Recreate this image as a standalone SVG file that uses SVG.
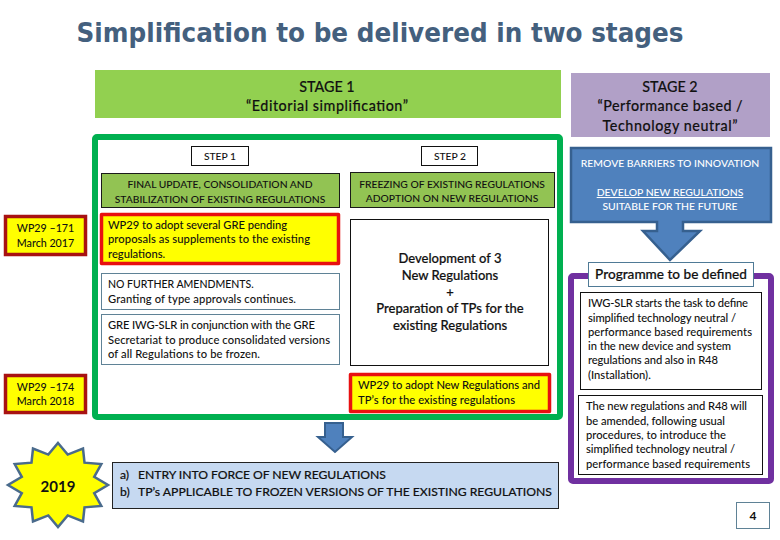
<svg xmlns="http://www.w3.org/2000/svg" width="780" height="540" viewBox="0 0 780 540">
<style>
text{font-family:"Lato","Open Sans","Liberation Sans",sans-serif;fill:#111;font-size:11.200px;font-weight:500}
.c{text-anchor:middle}
.title{font-family:"DejaVu Sans",sans-serif;font-weight:700;font-size:26.500px;fill:#44607e}
.st{font-size:14.300px;stroke:#111;stroke-width:.15}
.cap{font-size:10.300px}
.dev{font-size:13px;stroke:#111;stroke-width:.2}
.ent{font-size:12.200px;stroke:#111;stroke-width:.15}
.wh{fill:#fff;font-size:10.400px}
.g{fill:#92c353;stroke:#1a1a1a;stroke-width:1}
.w{fill:#fff;stroke:#111;stroke-width:1}
.ws{fill:#fff;stroke:#5f8296;stroke-width:1}
.yr{fill:#ffff00;stroke:#e81010;stroke-width:3.500;stroke-linejoin:round}
.yd{fill:#ffff00;stroke:#a81212;stroke-width:3.500}
.bl{fill:#4f81bd;stroke:#36608f;stroke-width:2.500}
</style>
<rect width="780" height="540" fill="#fff"/>
<text class="title c" x="380" y="42" textLength="607" lengthAdjust="spacingAndGlyphs">Simplification to be delivered in two stages</text>

<g id="stage1"><rect x="95" y="70" width="466" height="48" fill="#92d050"/>
<text class="c st" x="327" y="92">STAGE 1</text><text class="c st" x="327" y="111" textLength="162">“Editorial simplification”</text></g>
<g id="stage2"><rect x="571" y="73" width="199" height="64" fill="#b1a0c7"/>
<text class="c st" x="670" y="92">STAGE 2</text><text class="c st" x="670" y="111" textLength="145">“Performance based /</text><text class="c st" x="670" y="131" textLength="135">Technology neutral”</text></g>

<g id="stage1-frame"><rect x="95" y="137" width="465" height="280" rx="2" fill="#fff" stroke="#00b050" stroke-width="6"/></g>

<g id="step1"><rect class="w" x="191.500" y="146.500" width="57" height="19"/><text class="c cap" x="220" y="160">STEP 1</text></g>
<g id="step2"><rect class="w" x="421.500" y="146.500" width="56" height="19"/><text class="c cap" x="450" y="160">STEP 2</text></g>
<g id="final-update"><rect class="g" x="101.500" y="173.500" width="238" height="34"/>
<text class="c cap" x="220" y="188">FINAL UPDATE, CONSOLIDATION AND</text><text class="c cap" x="220" y="203">STABILIZATION OF EXISTING REGULATIONS</text></g>
<g id="freezing"><rect class="g" x="350.500" y="172.500" width="204" height="35"/>
<text class="c cap" x="452" y="188">FREEZING OF EXISTING REGULATIONS</text><text class="c cap" x="452" y="202">ADOPTION ON NEW REGULATIONS</text></g>
<g id="adopt-pending"><rect class="yr" x="101.500" y="214.500" width="237" height="49"/>
<text x="108" y="229" textLength="179">WP29 to adopt several GRE pending</text><text x="108" y="243" textLength="202">proposals as supplements to the existing</text><text x="108" y="258">regulations.</text></g>
<g id="no-further"><rect class="ws" x="101.500" y="273.500" width="238" height="36"/>
<text x="108" y="288" style="font-size:10.500px">NO FURTHER AMENDMENTS.</text><text x="108" y="303" textLength="188">Granting of type approvals continues.</text></g>
<g id="iwg-consolidate"><rect class="ws" x="101.500" y="314.500" width="238" height="50"/>
<text x="108" y="329" textLength="207">GRE IWG-SLR in conjunction with the GRE</text><text x="108" y="344" textLength="222">Secretariat to produce consolidated versions</text><text x="108" y="358" textLength="152">of all Regulations to be frozen.</text></g>
<g id="development"><rect class="w" x="350.500" y="219.500" width="198" height="146"/>
<text class="c dev" x="450" y="263">Development of 3</text><text class="c dev" x="450" y="280">New Regulations</text><text class="c dev" x="450" y="297">+</text><text class="c dev" x="450" y="313">Preparation of TPs for the</text><text class="c dev" x="450" y="330">existing Regulations</text></g>
<g id="adopt-new"><rect class="yr" x="350.500" y="374.500" width="199" height="37"/>
<text x="358" y="389" textLength="182">WP29 to adopt New Regulations and</text><text x="358" y="404" textLength="157">TP’s for the existing regulations</text></g>
<g id="wp29-171"><rect class="yd" x="5.500" y="216.500" width="80" height="38"/><text class="c" x="45.500" y="232" style="font-size:10.700px">WP29 –171</text><text class="c" x="45.500" y="247" style="font-size:10.700px">March 2017</text></g>
<g id="wp29-174"><rect class="yd" x="5.500" y="375.500" width="80" height="37"/><text class="c" x="45.500" y="391" style="font-size:10.700px">WP29 –174</text><text class="c" x="45.500" y="405" style="font-size:10.700px">March 2018</text></g>
<g id="star-2019"><polygon fill="#ffff00" stroke="#4a6b8c" stroke-width="2.500" points="58,443 67.700,454.600 83,448.600 84.500,462.700 101.300,464 94.200,476.800 108,485 94.200,493.200 101.300,506 84.500,507.300 83,521.400 67.700,515.400 58,527 48.300,515.400 33,521.400 31.500,507.300 14.700,506 21.800,493.200 8,485 21.800,476.800 14.700,464 31.500,462.700 33,448.600 48.300,454.600"/><text class="c" x="58" y="492" style="font-size:15px;font-weight:700">2019</text></g>
<g id="entry-into-force"><rect x="112.500" y="462.500" width="446" height="46" fill="#c6d9f1" stroke="#222" stroke-width="1"/>
<text class="ent" x="120" y="479">a)</text><text class="ent" x="138" y="479" textLength="248">ENTRY INTO FORCE OF NEW REGULATIONS</text><text class="ent" x="120" y="496">b)</text><text class="ent" x="138" y="496" textLength="414">TP’s APPLICABLE TO FROZEN VERSIONS OF THE EXISTING REGULATIONS</text></g>
<g id="barriers"><path class="bl" d="M571 148H771V222H683V231H700L670 260L643 231H657V222H571Z"/>
<text class="c wh" x="670" y="167" style="fill:#fff">REMOVE BARRIERS TO INNOVATION</text><text class="c wh" x="670" y="196" style="fill:#fff;text-decoration:underline">DEVELOP NEW REGULATIONS</text><text class="c wh" x="670" y="210" style="fill:#fff">SUITABLE FOR THE FUTURE</text></g>
<g id="programme-frame"><rect x="571" y="276" width="200" height="205" rx="2" fill="#fff" stroke="#7030a0" stroke-width="6"/></g>
<g id="programme"><rect x="588.500" y="262.500" width="165" height="24" fill="#fff" stroke="#4f7a96" stroke-width="1"/><text class="c" x="671" y="279" style="font-size:13.600px;stroke:#111;stroke-width:.2">Programme to be defined</text></g>
<g id="iwg-starts"><rect class="w" x="580.500" y="292.500" width="181" height="97"/>
<text x="588" y="307" textLength="160">IWG-SLR starts the task to define</text><text x="588" y="322" textLength="148">simplified technology neutral /</text><text x="588" y="336" textLength="164">performance based requirements</text><text x="588" y="350" textLength="143">in the new device and system</text><text x="588" y="364" textLength="130">regulations and also in R48</text><text x="588" y="379">(Installation).</text></g>
<g id="new-regs"><rect class="w" x="578.500" y="395.500" width="184" height="79"/>
<text x="586" y="410" textLength="161">The new regulations and R48 will</text><text x="586" y="425" textLength="139">be amended, following usual</text><text x="586" y="439" textLength="140">procedures, to introduce the</text><text x="586" y="453" textLength="149">simplified technology neutral /</text><text x="586" y="468" textLength="164">performance based requirements</text></g>
<g id="page"><rect class="ws" x="736.500" y="502.500" width="33" height="26"/><text class="c" x="753" y="520" style="font-weight:700;font-size:12px">4</text></g>
<g id="connectors"><path d="M325 423H343V437H352L335 452L318 437H325Z" fill="#4f81bd" stroke="#36608f" stroke-width="2"/></g>
</svg>
